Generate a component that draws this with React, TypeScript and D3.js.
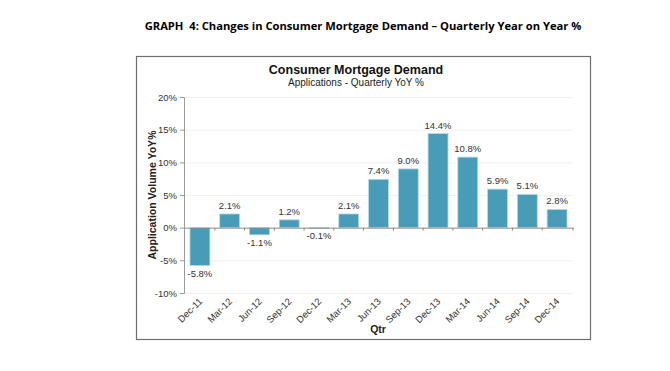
import React, { useEffect, useRef } from "react";
import * as d3 from "d3";

const quarters = ["Dec-11", "Mar-12", "Jun-12", "Sep-12", "Dec-12", "Mar-13", "Jun-13", "Sep-13", "Dec-13", "Mar-14", "Jun-14", "Sep-14", "Dec-14"];
const yoyValues = [-5.8, 2.1, -1.1, 1.2, -0.1, 2.1, 7.4, 9.0, 14.4, 10.8, 5.9, 5.1, 2.8];
const yTicks = [-10, -5, 0, 5, 10, 15, 20];

const App = () => {
	const ref = useRef<SVGSVGElement>(null);

	useEffect(() => {
		const width = 670;
		const height = 371;
		const plot = { left: 184, right: 573, top: 97, bottom: 293 };
		const font = "Arial, 'Liberation Sans', sans-serif";

		const svg = d3.select(ref.current);
		svg.selectAll("*").remove();
		svg.attr("width", width).attr("height", height);

		svg.append("rect").attr("width", width).attr("height", height).attr("fill", "#fff");

		// page heading
		svg
			.append("text")
			.attr("x", 363)
			.attr("y", 30)
			.attr("text-anchor", "middle")
			.attr("font-family", "'Open Sans', sans-serif")
			.attr("font-weight", "bold")
			.attr("font-size", 11.2)
			.attr("fill", "#000")
			.attr("xml:space", "preserve")
			.text("GRAPH  4: Changes in Consumer Mortgage Demand \u2013 Quarterly Year on Year %");

		// chart frame
		svg
			.append("rect")
			.attr("x", 136.5)
			.attr("y", 56.5)
			.attr("width", 454)
			.attr("height", 283)
			.attr("fill", "#fff")
			.attr("stroke", "#6f6f6f")
			.attr("stroke-width", 1.2);

		svg
			.append("text")
			.attr("x", 356)
			.attr("y", 74)
			.attr("text-anchor", "middle")
			.attr("font-family", font)
			.attr("font-weight", "bold")
			.attr("font-size", 12.5)
			.attr("fill", "#111")
			.text("Consumer Mortgage Demand");

		svg
			.append("text")
			.attr("x", 356)
			.attr("y", 86)
			.attr("text-anchor", "middle")
			.attr("font-family", font)
			.attr("font-size", 10)
			.attr("fill", "#222")
			.text("Applications - Quarterly YoY %");

		const x = d3.scaleBand().domain(quarters).range([plot.left, plot.right]).paddingInner(0.33).paddingOuter(0.2);
		const y = d3.scaleLinear().domain([-10, 20]).range([plot.bottom, plot.top]);

		// grid
		svg
			.append("g")
			.selectAll("line")
			.data(yTicks.filter((d) => d !== 0))
			.join("line")
			.attr("x1", plot.left)
			.attr("x2", plot.right)
			.attr("y1", (d) => y(d) + 0.5)
			.attr("y2", (d) => y(d) + 0.5)
			.attr("stroke", "#f1f1f1");

		// y axis
		const yAxis = svg
			.append("g")
			.attr("transform", `translate(${plot.left},0)`)
			.call(
				d3
					.axisLeft(y)
					.tickValues(yTicks)
					.tickSize(4)
					.tickPadding(3)
					.tickFormat((d) => `${d}%`)
			);
		yAxis.select(".domain").attr("stroke", "#9a9a9a");
		yAxis.selectAll(".tick line").attr("stroke", "#9a9a9a");
		yAxis.selectAll("text").attr("font-family", font).attr("font-size", 9.5).attr("fill", "#333");

		// bars
		svg
			.append("g")
			.selectAll("rect")
			.data(yoyValues)
			.join("rect")
			.attr("x", (d, i) => x(quarters[i]))
			.attr("y", (d) => y(Math.max(0, d)))
			.attr("width", x.bandwidth())
			.attr("height", (d) => Math.max(1, Math.abs(y(d) - y(0))))
			.attr("fill", "#489cb7")
			.attr("stroke", "#b9dbe6")
			.attr("stroke-width", 0.8);

		// zero line with band ticks
		const xAxis = svg
			.append("g")
			.attr("transform", `translate(0,${y(0)})`)
			.call(d3.axisBottom(x).tickSize(0).tickFormat(() => ""));
		xAxis.select(".domain").attr("stroke", "#8a8a8a");
		xAxis
			.append("g")
			.selectAll("line")
			.data(quarters.slice(1).concat(["end"]))
			.join("line")
			.attr("x1", (d, i) => (d === "end" ? plot.right : x(quarters[i + 1]) - (x.step() - x.bandwidth()) / 2))
			.attr("x2", (d, i) => (d === "end" ? plot.right : x(quarters[i + 1]) - (x.step() - x.bandwidth()) / 2))
			.attr("y1", 0)
			.attr("y2", 3)
			.attr("stroke", "#8a8a8a");

		// value labels
		svg
			.append("g")
			.selectAll("text")
			.data(yoyValues)
			.join("text")
			.attr("x", (d, i) => x(quarters[i]) + x.bandwidth() / 2)
			.attr("y", (d) => (d >= 0 ? y(d) - 5 : y(d) + 11))
			.attr("text-anchor", "middle")
			.attr("font-family", font)
			.attr("font-size", 9.5)
			.attr("fill", "#333")
			.text((d) => `${d.toFixed(1)}%`);

		// category labels
		svg
			.append("g")
			.selectAll("text")
			.data(quarters)
			.join("text")
			.attr("transform", (d) => `translate(${x(d) + x.bandwidth() / 2 + 3},302) rotate(-45)`)
			.attr("text-anchor", "end")
			.attr("font-family", font)
			.attr("font-size", 9.5)
			.attr("fill", "#333")
			.text((d) => d);

		svg
			.append("text")
			.attr("x", 378)
			.attr("y", 333)
			.attr("text-anchor", "middle")
			.attr("font-family", font)
			.attr("font-weight", "bold")
			.attr("font-size", 10.5)
			.attr("fill", "#222")
			.text("Qtr");

		svg
			.append("text")
			.attr("transform", `translate(156,${y(5)}) rotate(-90)`)
			.attr("text-anchor", "middle")
			.attr("font-family", font)
			.attr("font-weight", "bold")
			.attr("font-size", 10.5)
			.attr("fill", "#222")
			.text("Application Volume YoY%");
	}, []);

	return <svg ref={ref} style={{ position: "absolute", left: 0, top: 0 }}></svg>;
};

export default App;
